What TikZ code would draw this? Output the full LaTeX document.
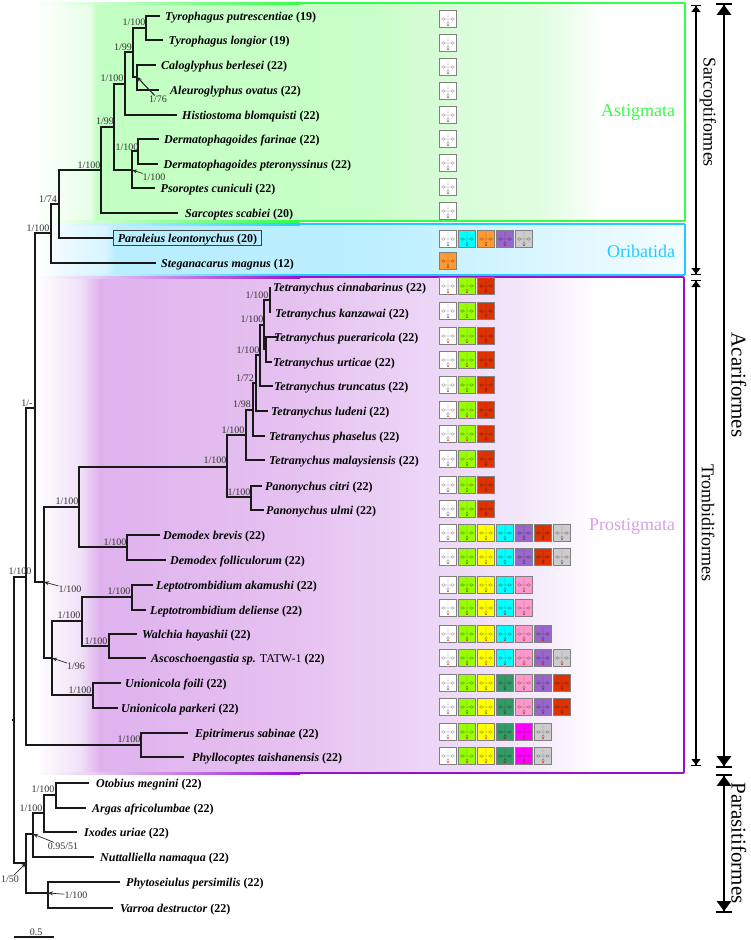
\documentclass[tikz,border=0pt]{standalone}
\usepackage{fontspec}
\setmainfont{Liberation Serif}
\usetikzlibrary{arrows.meta}
\definecolor{gw}{HTML}{FFFFFF}
\definecolor{gl}{HTML}{99FF00}
\definecolor{gy}{HTML}{FFFF00}
\definecolor{gc}{HTML}{00FFFF}
\definecolor{gp}{HTML}{9966CC}
\definecolor{gr}{HTML}{DD3300}
\definecolor{gk}{HTML}{CCCCCC}
\definecolor{go}{HTML}{FF9933}
\definecolor{gi}{HTML}{FF99CC}
\definecolor{gd}{HTML}{339966}
\definecolor{gm}{HTML}{FF00FF}
\definecolor{astigline}{HTML}{33FF44}
\definecolor{oribline}{HTML}{22CCFF}
\definecolor{prostline}{HTML}{9911CC}
\definecolor{astA}{HTML}{E8FFE8}
\definecolor{astB}{HTML}{C2FFC2}
\definecolor{astC}{HTML}{C8FFC8}
\definecolor{astD}{HTML}{D4FDD4}
\definecolor{astE}{HTML}{E0FDE0}
\definecolor{astF}{HTML}{EAFDEA}
\definecolor{oriA}{HTML}{EEFAFF}
\definecolor{oriB}{HTML}{D8F5FF}
\definecolor{oriC}{HTML}{B8EEFF}
\definecolor{oriD}{HTML}{BCEFFF}
\definecolor{oriE}{HTML}{C8F2FF}
\definecolor{oriF}{HTML}{E2F8FF}
\definecolor{oriG}{HTML}{F5FDFF}
\definecolor{proA}{HTML}{F0E2F8}
\definecolor{proB}{HTML}{DFB2EE}
\definecolor{proC}{HTML}{E6C2F0}
\definecolor{proD}{HTML}{ECD6F6}
\definecolor{proE}{HTML}{F3E6FA}
% 25bp and 75bp are the left and right edges of the band
\pgfdeclarehorizontalshading{astigband}{100bp}{color(0bp)=(white); color(25bp)=(white);
  color(29.6bp)=(astA); color(30.1bp)=(astB); color(51.3bp)=(astC); color(54.8bp)=(astD);
  color(63.5bp)=(astE); color(65.6bp)=(astF); color(68.9bp)=(white); color(100bp)=(white)}
\pgfdeclarehorizontalshading{oribband}{100bp}{color(0bp)=(white); color(25bp)=(white);
  color(26.7bp)=(oriA); color(30.2bp)=(oriB); color(31bp)=(oriC); color(51bp)=(oriD);
  color(56bp)=(oriE); color(67bp)=(oriF); color(75bp)=(oriG); color(100bp)=(oriG)}
\pgfdeclarehorizontalshading{prostband}{100bp}{color(0bp)=(white); color(25bp)=(white);
  color(28.4bp)=(proA); color(29.9bp)=(proB); color(45.4bp)=(proC); color(55.4bp)=(proD);
  color(62.3bp)=(proE); color(68.5bp)=(white); color(100bp)=(white)}
\tikzset{
  branch/.style={line width=1.2pt,draw=black!90},
  taxon/.style={anchor=west,inner xsep=#1,inner ysep=0pt,text height=10pt,text depth=2pt,font=\fontsize{12}{13}\selectfont\bfseries},
  taxon/.default=5.5pt,
  support/.style={inner sep=0pt,font=\fontsize{10}{11}\selectfont,text=black!80},
  suparrow/.style={line width=0.7pt,draw=black!85,-{Stealth[length=5pt,width=4pt]}},
  genebox/.style={draw=black!50,line width=0.9pt,minimum width=17pt,minimum height=16.5pt,inner sep=0pt},
  trna/.pic={\draw[black,opacity=0.38,line width=0.45pt] (0,-7)--(0,3) (-3,0)--(3,0)
      (-4.5,0) ellipse (1.9 and 1.3) (4.5,0) ellipse (1.9 and 1.3) (0,4.6) ellipse (1.2 and 1.7);
    \draw[red,opacity=0.6,line width=0.5pt] (-1,6.3)--(1,6.3);},
  groupname/.style={inner sep=0pt,font=\fontsize{18}{19}\selectfont},
  clade/.style={inner sep=0pt,rotate=-90},
  thinspan/.style={line width=1.3pt,{Bar[width=10pt,line width=1pt]Triangle[length=6pt,width=9pt,sep=0pt]}-{Triangle[length=6pt,width=9pt,sep=0pt]Bar[width=10pt,line width=1pt]}},
  thickspan/.style={line width=2.4pt,{Bar[width=16pt,line width=1.8pt]Triangle[length=10pt,width=14pt,sep=0pt]}-{Triangle[length=10pt,width=14pt,sep=0pt]Bar[width=16pt,line width=1.8pt]}},
}
\newcommand{\spname}[1]{\textit{#1}}
\begin{document}
\begin{tikzpicture}[x=1pt,y=-1pt]
\useasboundingbox (0,0) rectangle (750,940);
% bands
\shade[shading=astigband] (30,3) rectangle (685,221);
\shade[shading=oribband] (38,224) rectangle (685,275);
\shade[shading=prostband] (36,277) rectangle (684,773);
\shade[left color=white,right color=astigline] (34,2) rectangle (300,4);
\shade[left color=white,right color=astigline] (34,220) rectangle (300,222);
\draw[astigline,line width=1.9pt,rounded corners=1pt] (300,3)--(685,3)--(685,221)--(300,221);
\shade[left color=white,right color=oribline] (38,223) rectangle (300,225);
\shade[left color=white,right color=oribline] (38,274) rectangle (300,276);
\draw[oribline,line width=1.9pt,rounded corners=1pt] (300,224)--(685,224)--(685,275)--(300,275);
\shade[left color=white,right color=prostline] (36,276) rectangle (300,278);
\shade[left color=white,right color=prostline] (36,772) rectangle (300,774);
\draw[prostline,line width=1.9pt,rounded corners=1pt] (300,277)--(684,277)--(684,773)--(300,773);
% inner nodes
\foreach \cname/\x/\y in {root/14/720,rootstub/12/720,aca/26/577,par/26/863,
  a1/35/408,sar/51/233,pro/44/582,n59/59/204,n101/101/170,n114/114/127,n125/125/84,
  n133/133/52,n146/146/28,n137/137/77,n132/132/170,n138/138/151,
  n79/79/507,n227/227/467,n246/246/435,n253/253/410,n256/256/383,n260/260/355,n264/264/325,
  n270/270/300,n266/266/349,n251/251/497,n127/127/547,n52/52/658,n82/82/621,n132b/132/597,
  n109/109/646,n93/93/695,n141/141/745,n33/33/834,n44/44/813,n56/56/795,n48/48/893}
  \coordinate (\cname) at (\x,\y);
% taxa
\node[taxon] (tpu) at (159.5,16) {\spname{Tyrophagus putrescentiae} (19)};
\node[taxon] (tlo) at (163,40) {\spname{Tyrophagus longior} (19)};
\node[taxon] (cbe) at (155.5,65) {\spname{Caloglyphus berlesei} (22)};
\node[taxon=11pt] (aov) at (159,90) {\spname{Aleuroglyphus ovatus} (22)};
\node[taxon] (hbl) at (176.5,115) {\spname{Histiostoma blomquisti} (22)};
\node[taxon] (dfa) at (158.5,139) {\spname{Dermatophagoides farinae} (22)};
\node[taxon] (dpt) at (158,164) {\spname{Dermatophagoides pteronyssinus} (22)};
\node[taxon] (pcu) at (155,188) {\spname{Psoroptes cuniculi} (22)};
\node[taxon=7pt] (ssc) at (178,213) {\spname{Sarcoptes scabiei} (20)};
\node[taxon,draw=black!75,line width=0.7pt,inner ysep=1.5pt,inner xsep=4.5pt] (ple) at (113,238) {\spname{Paraleius leontonychus} (20)};
\node[taxon] (sma) at (155.5,263) {\spname{Steganacarus magnus} (12)};
\node[taxon=3pt] (tci) at (270,287) {\spname{Tetranychus cinnabarinus} (22)};
\node[taxon=5pt] (tka) at (270,313) {\spname{Tetranychus kanzawai} (22)};
\node[taxon=-3pt] (tpa) at (277,337) {\spname{Tetranychus pueraricola} (22)};
\node[taxon=1pt] (tur) at (272,362) {\spname{Tetranychus urticae} (22)};
\node[taxon=1pt] (ttr) at (273,386) {\spname{Tetranychus truncatus} (22)};
\node[taxon=3pt] (tlu) at (268,411) {\spname{Tetranychus ludeni} (22)};
\node[taxon=4pt] (tph) at (265,436) {\spname{Tetranychus phaselus} (22)};
\node[taxon=4pt] (tma) at (265,460) {\spname{Tetranychus malaysiensis} (22)};
\node[taxon=3pt] (pci) at (262,486) {\spname{Panonychus citri} (22)};
\node[taxon=2pt] (pul) at (264,510) {\spname{Panonychus ulmi} (22)};
\node[taxon=3pt] (dbr) at (160,535) {\spname{Demodex brevis} (22)};
\node[taxon=4pt] (dfo) at (166,560) {\spname{Demodex folliculorum} (22)};
\node[taxon=3pt] (lak) at (153,585) {\spname{Leptotrombidium akamushi} (22)};
\node[taxon=4pt] (lde) at (146,610) {\spname{Leptotrombidium deliense} (22)};
\node[taxon=5pt] (wha) at (137,634) {\spname{Walchia hayashii} (22)};
\node[taxon=5pt] (asc) at (146,658) {\spname{Ascoschoengastia sp.} {\normalfont TATW-1} (22)};
\node[taxon=4pt] (ufo) at (121,683) {\spname{Unionicola foili} (22)};
\node[taxon=3pt] (upa) at (118,708) {\spname{Unionicola parkeri} (22)};
\node[taxon=7pt] (esa) at (188,733) {\spname{Epitrimerus sabinae} (22)};
\node[taxon=8pt] (pta) at (184,757) {\spname{Phyllocoptes taishanensis} (22)};
\node[taxon=7pt] (ome) at (89,783) {\spname{Otobius megnini} (22)};
\node[taxon=6pt] (aaf) at (86,808) {\spname{Argas africolumbae} (22)};
\node[taxon=7pt] (iur) at (77,832) {\spname{Ixodes uriae} (22)};
\node[taxon=6pt] (nna) at (94,857) {\spname{Nuttalliella namaqua} (22)};
\node[taxon=6pt] (pph) at (120,882) {\spname{Phytoseiulus persimilis} (22)};
\node[taxon=7pt] (vde) at (113,908) {\spname{Varroa destructor} (22)};
% tree
\foreach \p/\c in {root/aca,root/par,aca/a1,aca/n141,a1/sar,a1/pro,sar/n59,sar/sma,n59/n101,n59/ple,
  n101/n114,n101/ssc,n114/n125,n114/n132,n125/n133,n125/hbl,n133/n146,n133/n137,n146/tpu,n146/tlo,
  n137/cbe,n137/aov,n132/n138,n132/pcu,n138/dfa,n138/dpt,
  pro/n79,pro/n52,n79/n227,n79/n127,n227/n246,n227/n251,n246/n253,n246/tma,n253/n256,n253/tph,
  n256/n260,n256/tlu,n260/n264,n260/ttr,n264/n270,n264/n266,n270/tci,n270/tka,n266/tpa,n266/tur,
  n251/pci,n251/pul,n127/dbr,n127/dfo,n52/n82,n52/n93,n82/n132b,n82/n109,n132b/lak,n132b/lde,
  n109/wha,n109/asc,n93/ufo,n93/upa,n141/esa,n141/pta,
  par/n33,par/n48,n33/n44,n33/nna,n44/n56,n44/iur,n56/ome,n56/aaf,n48/pph,n48/vde}
  \draw[branch] (\p) |- (\c);
\draw[branch] (root)--(rootstub);
% support values
\foreach \x/\y/\t [count=\i] in {134/22/1{/}100,123/47/1{/}99,112/78/1{/}100,105/121/1{/}99,89/165/1{/}100,
  48/199/1{/}74,38/228/1{/}100,127/147/1{/}100,257/295/1{/}100,252/319/1{/}100,248/350/1{/}100,
  245/378/1{/}72,242/404/1{/}98,233/430/1{/}100,215/460/1{/}100,239/492/1{/}100,27/403/1{/}-,
  67/501/1{/}100,115/542/1{/}100,20/571/1{/}100,119/591/1{/}100,69/615/1{/}100,96/641/1{/}100,
  80/690/1{/}100,129/739/1{/}100,43/789/1{/}100,31/808/1{/}100}
  \node[support] (s\i) at (\x,\y) {\t};
\node[support] (s76) at (158,99) {1/76};
\node[support] (spso) at (154,177) {1/100};
\node[support] (slow) at (70,589) {1/100};
\node[support] (s96) at (76,666) {1/96};
\node[support] (s51) at (63,846) {0.95/51};
\node[support] (s50) at (10,879) {1/50};
\node[support] (sme) at (76,895) {1/100};
\draw[suparrow,line width=1.1pt] (s76) -- (n137);
\foreach \lab/\tgt in {spso/n132,slow/pro,s96/n52,s51/n33,s50/par,sme/n48}
  \draw[suparrow] (\lab) -- (\tgt);
% scale bar
\coordinate (barl) at (14,937);
\coordinate (barr) at (54,937);
\draw[branch] (barl)--(barr);
\node[support] (barlab) at (36,932) {0.5};
% tRNA gene boxes
\foreach \y/\cols in {19/{gw},43/{gw},67/{gw},91/{gw},115/{gw},139/{gw},163/{gw},187/{gw},211/{gw},
  239/{gw,gc,go,gp,gk},261/{go},
  286/{gw,gl,gr},311/{gw,gl,gr},336/{gw,gl,gr},360/{gw,gl,gr},385/{gw,gl,gr},
  410/{gw,gl,gr},434/{gw,gl,gr},459/{gw,gl,gr},485/{gw,gl,gr},509/{gw,gl,gr},
  533/{gw,gl,gy,gc,gp,gr,gk},557/{gw,gl,gy,gc,gp,gr,gk},
  585/{gw,gl,gy,gc,gi},608/{gw,gl,gy,gc,gi},634/{gw,gl,gy,gc,gi,gp},658/{gw,gl,gy,gc,gi,gp,gk},
  683/{gw,gl,gy,gd,gi,gp,gr},707/{gw,gl,gy,gd,gi,gp,gr},
  732/{gw,gl,gy,gd,gm,gk},756/{gw,gl,gy,gd,gm,gk}}
  \foreach \c [count=\k from 0] in \cols {
    \node[genebox,fill=\c] (g\y-\k) at ({448+19*\k},\y) {};
    \pic at (g\y-\k) {trna};
  }
% group names
\node[groupname,text=astigline] (astig) at (638,112) {Astigmata};
\node[groupname,text=oribline] (orib) at (641,251) {Oribatida};
\node[groupname,text=prostline!40!white] (prost) at (632,526) {Prostigmata};
% order and superorder spans
\coordinate (sarT) at (696,5);
\coordinate (sarB) at (696,275);
\coordinate (troT) at (696,280);
\coordinate (troB) at (696,766);
\coordinate (acaT) at (724,3);
\coordinate (acaB) at (724,768);
\coordinate (parT) at (724,774);
\coordinate (parB) at (724,913);
\draw[thinspan] (sarT)--(sarB);
\draw[thinspan] (troT)--(troB);
\draw[thickspan] (acaT)--(acaB);
\draw[thickspan] (parT)--(parB);
\node[clade,font=\fontsize{18}{19}\selectfont] (sarc) at (708,112) {Sarcoptiformes};
\node[clade,font=\fontsize{18}{19}\selectfont] (trom) at (708,523) {Trombidiformes};
\node[clade,font=\fontsize{21}{22}\selectfont] (acar) at (739,385) {Acariformes};
\node[clade,font=\fontsize{21}{22}\selectfont] (para) at (739,843) {Parasitiformes};
\end{tikzpicture}
\end{document}
